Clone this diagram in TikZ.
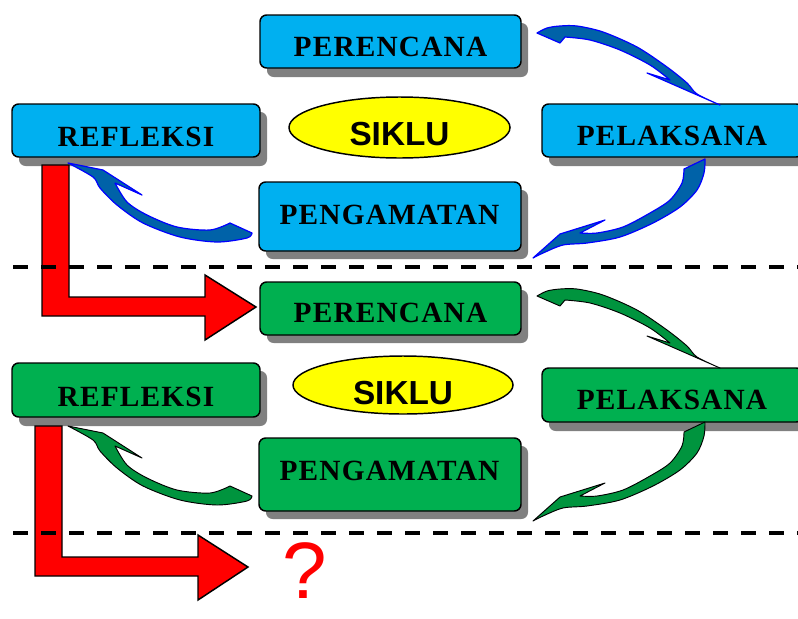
\documentclass[tikz,border=0pt]{standalone}
\usepackage{fontspec}
\setmainfont{Liberation Serif}
\newfontfamily\sansf{Liberation Sans}
\newfontfamily\boxf[LetterSpace=4]{Liberation Serif}
\definecolor{skyb}{HTML}{00B0F0}
\definecolor{grn}{HTML}{00B050}
\definecolor{shadowgray}{HTML}{808080}
\definecolor{arrblue}{HTML}{0062A8}
\definecolor{arrgreen}{HTML}{00943E}
\definecolor{ellyellow}{HTML}{FFFF00}
\definecolor{redfill}{HTML}{FF0000}
\newcommand\arrowTR[1]{\draw[#1] (537,33) -- (560,43) -- (565,37) -- plot[smooth] coordinates {(565,37) (590,40) (620,50) (650,65) (670,80)} -- (647,73) -- (720,105) -- plot[smooth] coordinates {(720,105) (697,94) (687,83) (667,67) (637,47) (603,32) (577,26) (560,26) (547,28) (537,33)} -- cycle;}
\newcommand\arrowRL[1]{\draw[#1] (705,159) -- (684,169) -- plot[smooth] coordinates {(684,169) (682,183) (670,200) (650,213) (623,227) (597,233) (580,233)} -- (605,220) -- (560,234) -- (533,258) -- plot[smooth] coordinates {(533,258) (543,253) (563,245) (587,243) (620,237) (653,223) (680,207) (697,190) (704,173) (705,159)} -- cycle;}
\newcommand\arrowLL[1]{\draw[#1] (68,163) -- (103,170) -- (142,195) -- (115,183) -- plot[smooth] coordinates {(115,183) (127,202) (147,215) (177,227) (210,230) (230,223)} -- (252,233) -- plot[smooth] coordinates {(252,233) (247,238) (217,242) (180,237) (143,223) (117,205) (100,188) (93,177) (68,163)} -- cycle;}
\begin{document}
\begin{tikzpicture}[x=0.75pt,y=-0.75pt,
  boxshape/.style={draw=black,line width=1.1pt,rounded corners=5pt},
  bluebox/.style={boxshape,fill=skyb},
  greenbox/.style={boxshape,fill=grn},
  shadowbox/.style={fill=shadowgray,rounded corners=5pt},
  lbl/.style={font=\boxf\bfseries\fontsize{22}{26}\selectfont,anchor=base,inner sep=0pt},
  siklu/.style={font=\sansf\bfseries\fontsize{25}{30}\selectfont,anchor=base,inner sep=0pt},
  ellshape/.style={draw=black,line width=1.1pt,fill=ellyellow},
  bluearr/.style={draw=blue,line width=0.9pt,fill=arrblue,line join=round},
  greenarr/.style={draw=black,line width=0.7pt,fill=arrgreen,line join=round},
  redarr/.style={draw=black,line width=1.1pt,fill=redfill,line join=miter},
  divider/.style={draw=black,line width=3pt,dash pattern=on 11.25pt off 9.75pt}]
\useasboundingbox (0,0) rectangle (798,618);
\clip (0,0) rectangle (798,618);
% ---------- top cycle (blue) ----------
\fill[shadowbox] (267,23) rectangle (528,77);
\draw[bluebox] (260,15) rectangle (521,68);
\node[lbl] (per1) at (390.5,56.5) {PERENCANA};
\fill[shadowbox] (19,112) rectangle (267,166);
\draw[bluebox] (12,104) rectangle (260,157);
\node[lbl] (ref1) at (136,146) {REFLEKSI};
\fill[shadowbox] (549,112) rectangle (810,166);
\draw[bluebox] (542,104) rectangle (803,157);
\node[lbl] (pel1) at (672,145) {PELAKSANA};
\fill[shadowbox] (266,190) rectangle (528,259);
\draw[bluebox] (259,182) rectangle (521,251);
\node[lbl] (pen1) at (389.5,224) {PENGAMATAN};
\draw[ellshape] (399.5,127.5) ellipse (110.5 and 30.5);
\node[siklu] (sik1) at (399.5,145) {SIKLU};
\arrowTR{bluearr}
\arrowRL{bluearr}
\arrowLL{bluearr}
% ---------- bottom cycle (green) ----------
\fill[shadowbox] (267,290) rectangle (528,343);
\draw[greenbox] (260,282) rectangle (521,335);
\node[lbl] (per2) at (390.5,322) {PERENCANA};
\fill[shadowbox] (19,371) rectangle (267,426);
\draw[greenbox] (12,363) rectangle (260,417);
\node[lbl] (ref2) at (136,406) {REFLEKSI};
\fill[shadowbox] (549,376) rectangle (810,431);
\draw[greenbox] (542,368) rectangle (803,422);
\node[lbl] (pel2) at (672,409) {PELAKSANA};
\fill[shadowbox] (266,446) rectangle (528,519);
\draw[greenbox] (259,438) rectangle (521,511);
\node[lbl] (pen2) at (389.5,480) {PENGAMATAN};
\draw[ellshape] (403,385) ellipse (110 and 29);
\node[siklu] (sik2) at (403,404) {SIKLU};
\begin{scope}[shift={(0,263)}]
\arrowTR{greenarr}
\arrowRL{greenarr}
\arrowLL{greenarr}
\end{scope}
% ---------- red arrows ----------
\draw[redarr] (42,165) -- (69,165) -- (69,297) -- (205,297) -- (205,275) -- (256,307) -- (205,340) -- (205,316) -- (42,316) -- cycle;
\draw[redarr] (35,426) -- (62,426) -- (62,557) -- (198,557) -- (198,535) -- (248,567) -- (198,600) -- (198,576) -- (35,576) -- cycle;
\node[font=\sansf\fontsize{60}{62}\selectfont,text=redfill,anchor=base,inner sep=0pt] (q) at (305,598) {?};
% ---------- dividers ----------
\coordinate (d1a) at (13,267);
\coordinate (d1b) at (798,267);
\coordinate (d2a) at (13,533);
\coordinate (d2b) at (798,533);
\draw[divider] (d1a) -- (d1b);
\draw[divider] (d2a) -- (d2b);
\end{tikzpicture}
\end{document}
